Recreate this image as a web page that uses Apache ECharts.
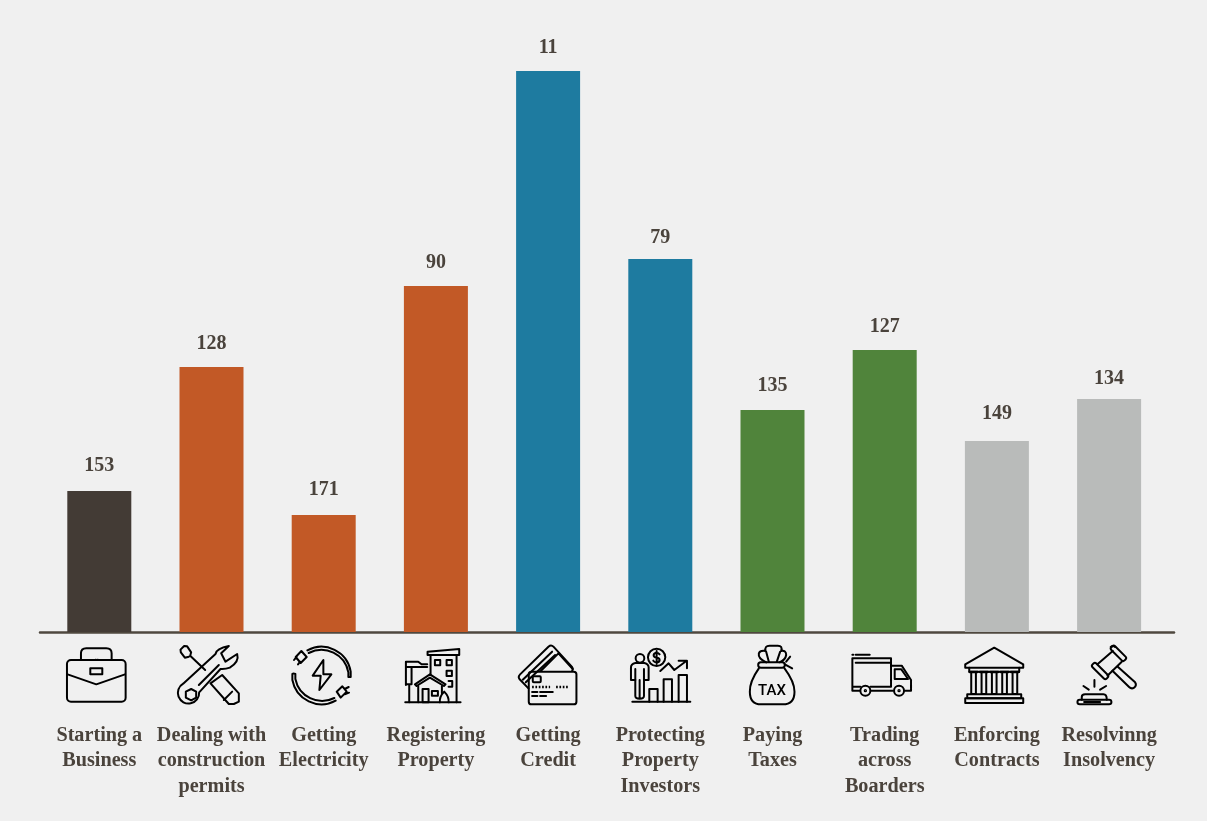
<!DOCTYPE html>
<html>
<head>
<meta charset="utf-8">
<style>
html,body{margin:0;padding:0;background:#f0f0f0;overflow:hidden}
#chart{position:absolute;left:0;top:0;width:1207px;height:821px}
</style>
<script src="https://cdn.jsdelivr.net/npm/echarts@6/dist/echarts.min.js"></script>
</head>
<body>
<div id="chart"></div>
<script>
const categories = ['Starting a\nBusiness','Dealing with\nconstruction\npermits','Getting\nElectricity','Registering\nProperty','Getting\nCredit','Protecting\nProperty\nInvestors','Paying\nTaxes','Trading\nacross\nBoarders','Enforcing\nContracts','Resolvinng\nInsolvency'];
const barHeights = [141,265,117,346,561,373,222,282,191,233];
const rankLabels = [153,128,171,90,11,79,135,127,149,134];
const barColors = ['#433b35','#c25926','#c25926','#c25926','#1e7ba0','#1e7ba0','#50843b','#50843b','#b9bbba','#b9bbba'];
const labelGaps = [15,13,15,13,13,11,14,13,17,10];

const INK = '#000';
function svg(minx, miny, body){
  const s = `<svg xmlns="http://www.w3.org/2000/svg" width="210" height="186" viewBox="${minx} ${miny} 210 186"><g fill="none" stroke="${INK}" stroke-width="6" stroke-linejoin="round" stroke-linecap="round">${body}</g></svg>`;
  return 'data:image/svg+xml;charset=utf-8,' + encodeURIComponent(s);
}
const iconBodies = [
 [72,`<rect x="80" y="105" width="176" height="125" rx="12"/><path d="M122 105V85Q122 70 138 70H198Q214 70 214 85V105"/><path d="M82 148L168 178L254 148"/><rect x="150" y="130" width="36" height="18"/><path d="M166 104h1M172 104h1"/>`],
 [408,`<path d="M428 176L525 87Q528 70 565 63L542 85L555 110L590 87Q597 110 568 128Q555 133 540 132L476 202A32 32 0 1 1 428 176Z"/><path d="M475 180L535 120"/><path d="M452 192L467 200L467 218L452 226L436 218L436 200Z"/><path d="M445 95L433 98L421 82L420 74L431 63L440 64L452 82L449 92L494 135"/><path d="M510 175L545 150L595 205V230L580 237H565L510 175"/><path d="M575 200L550 225"/>`],
 [744,`<path d="M800 76A89 89 0 0 1 930 140V156H923V142A82 82 0 0 0 804 84"/><path d="M885 227A89 89 0 0 1 755 165V147Q758 144 764 147V162A82 82 0 0 0 881 219"/><path d="M782 78L798 96L780 114L765 96ZM768 95L760 105M778 110L772 118"/><path d="M888 200L905 184L918 200L900 218ZM912 192L924 186M912 208L925 203"/><path d="M848 105L816 152H840L836 195L872 148H848Z"/>`],
 [1083,`<path d="M1096 232H1262"/><path d="M1163 80L1258 72V90H1163Z"/><path d="M1172 90V150M1250 90V232"/><rect x="1185" y="105" width="16" height="16"/><rect x="1220" y="105" width="16" height="16"/><rect x="1220" y="137" width="16" height="16"/><path d="M1226 168H1237V185H1226"/><path d="M1098 180V110H1135L1145 118H1162M1098 126H1162M1115 126V178H1098M1108 180V232"/><path d="M1125 178L1170 148L1217 178L1212 183L1170 158L1130 183Z"/><path d="M1135 183V232M1206 183V205"/><rect x="1148" y="192" width="18" height="40"/><rect x="1176" y="198" width="18" height="14"/><path d="M1200 232Q1198 215 1213 200Q1228 215 1226 232"/>`],
 [99,`<path d="M145 190L118 162Q113 155 120 148L205 65Q213 58 220 65L275 125Q280 132 276 138"/><path d="M128 164L216 80M137 172L225 90"/><path d="M182 138L235 85L278 132"/><rect x="146" y="140" width="143" height="98" rx="8"/><rect x="158" y="154" width="24" height="18" rx="3"/><path d="M156 186H210M228 186H268" stroke-dasharray="5 5" stroke-linecap="butt" stroke-width="7"/><path d="M156 201H172M180 201H218M156 213H172M180 213H198"/>`],
 [435,`<path d="M456 230H630"/><path d="M507 230V192H532V230M550 230V163H575V230M595 230V150H620V230"/><circle cx="529" cy="97" r="26"/><path d="M538 88Q534 83 528 83Q520 84 520 91Q520 97 529 98Q538 99 538 105Q537 112 529 112Q522 112 519 107M529 78V117"/><circle cx="479" cy="100" r="13"/><path d="M465 165H452V127Q452 117 465 114H492Q505 117 505 127V165H492"/><path d="M465 132V213Q465 221 478 221Q491 221 491 213V132M478 165V218"/><path d="M540 138L565 115L582 135L618 108M595 107H620V130"/>`],
 [774,`<path d="M838 130Q810 170 811 200Q811 238 845 238H910Q945 238 945 200Q945 170 915 130"/><rect x="836" y="112" width="80" height="16" rx="8"/><path d="M860 112Q835 100 838 85Q842 75 858 78Q855 62 870 62H895Q910 62 905 78Q920 75 920 90Q918 105 900 112"/><path d="M868 110L860 80M892 110L902 80"/><path d="M916 118L938 130M920 110L932 95"/>`],
 [90,`<path d="M98 197V100H214V185M98 185H122M152 185H214M98 197H120M155 197H220M255 197H274V165L246 122H216"/><path d="M225 133H245L265 162H225Z"/><circle cx="137" cy="197" r="15"/><circle cx="238" cy="197" r="15"/><circle cx="137" cy="197" r="2"/><circle cx="238" cy="197" r="2"/><path d="M98 89H101M108 89H150M108 113H214"/>`],
 [426,`<path d="M523 68L610 118V128H436V118Z"/><path d="M448 128V140H598V128"/><path d="M449 141H473M480 141H504M511 141H535M542 141H566M573 141H597" stroke-width="7"/><path d="M454 145V207H468V145M485 145V207H499V145M516 145V207H530V145M547 145V207H561V145M578 145V207H592V145"/><rect x="442" y="208" width="162" height="12"/><rect x="436" y="220" width="174" height="14"/>`],
 [762,`<path d="M893 125L945 172Q951 181 942 188Q934 193 927 186L877 137"/><rect x="810" y="130" width="60" height="16" rx="6" transform="rotate(45 840 138)"/><rect x="867" y="77" width="56" height="16" rx="6" transform="rotate(45 895 85)"/><path d="M872 66Q878 60 885 66"/><path d="M832 118L878 78M862 152L905 110"/><rect x="772" y="224" width="102" height="14" rx="7"/><path d="M785 224V216Q785 208 795 208H850Q860 208 860 224"/><path d="M792 231H840"/><path d="M823 165V185M790 183L806 194M858 183L840 194"/>`]
];
const icons = iconBodies.map(b => svg(b[0], 57, b[1]));

const chart = echarts.init(document.getElementById('chart'), null, {renderer:'canvas'});
const font = '"Liberation Serif", serif';
chart.setOption({
  backgroundColor:'#f0f0f0',
  animation:false,
  grid:[
    {left:43.2, width:1122, top:32, height:600},
    {left:40, width:1134, top:32, height:600}
  ],
  xAxis:[
    {type:'category', gridIndex:0, data:categories,
     axisLine:{show:false}, axisTick:{show:false},
     axisLabel:{interval:0, margin:91, color:'#4a433c', fontFamily:font, fontWeight:'bold', fontSize:20.2, lineHeight:25.5, align:'center', verticalAlign:'top'}},
    {type:'value', gridIndex:1, min:0, max:1, splitLine:{show:false}, axisTick:{show:false}, axisLabel:{show:false},
     axisLine:{show:true, lineStyle:{color:'#4f483f', width:2.5}}}
  ],
  yAxis:[
    {type:'value', gridIndex:0, min:0, max:600, show:false},
    {type:'value', gridIndex:1, min:0, max:1, show:false}
  ],
  series:[
    {type:'bar', xAxisIndex:0, yAxisIndex:0, barWidth:64,
     data:barHeights.map((v,i)=>({value:v, itemStyle:{color:barColors[i]}, label:{distance:labelGaps[i]}})),
     label:{show:true, position:'top', color:'#4a433c', fontFamily:font, fontWeight:'bold', fontSize:20,
       formatter:p=>String(rankLabels[p.dataIndex])}},
    {type:'custom', xAxisIndex:0, yAxisIndex:0, clip:false, silent:true,
     data:categories.map((c,i)=>i),
     renderItem:(params,api)=>{
       const i = api.value(0);
       const p = api.coord([i,0]);
       const children = [{type:'image', style:{image:icons[i], x:p[0]-35, y:p[1]+12, width:70, height:62}}];
       if (i===6) children.push({type:'text', style:{text:'TAX', x:p[0]-0.5, y:p[1]+59, align:'center', verticalAlign:'middle', fill:INK, font:'500 15px Roboto'}});
       return {type:'group', children};
     },
     encode:{x:0}}
  ]
});
</script>
</body>
</html>
